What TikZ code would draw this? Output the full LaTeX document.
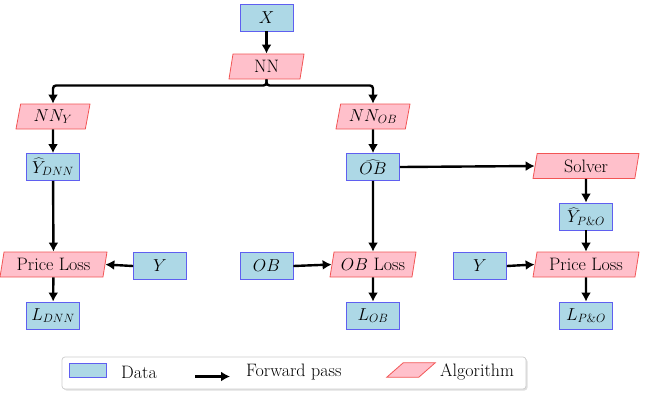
\documentclass[tikz,border=0pt]{standalone}
\usetikzlibrary{shapes.geometric,arrows.meta,shadows}
\definecolor{databg}{RGB}{173,216,230}
\definecolor{dataline}{RGB}{95,95,240}
\definecolor{algbg}{RGB}{255,192,203}
\definecolor{algline}{RGB}{242,85,85}
\begin{document}
\begin{tikzpicture}[x=1pt,y=-1pt, font=\fontsize{18}{21}\selectfont,
 data/.style={draw=dataline, fill=databg, line width=0.9pt, minimum width=53pt, minimum height=27pt, inner sep=0pt},
 alg/.style={trapezium, trapezium left angle=72, trapezium right angle=108, trapezium stretches body, draw=algline, fill=algbg, line width=0.8pt, minimum height=25pt, inner sep=0pt},
 flow/.style={line width=2.4pt, -{Latex[length=9pt,width=10pt]}},
 lbl/.style={inner sep=0pt, anchor=west}]
\useasboundingbox (0,0) rectangle (650,392);
\node[data] (x) at (266.5,17.5) {$X$};
\node[alg, minimum width=75pt] (nn) at (266.5,66.5) {NN};
\node[alg, minimum width=74pt] (nny) at (53,116.5) {$NN_{Y}$};
\node[alg, minimum width=74pt] (nnob) at (373,116.5) {$NN_{OB}$};
\node[data] (yd) at (53,167) {$\widehat{Y}_{DNN}$};
\node[data] (obh) at (373,167) {$\widehat{OB}$};
\node[alg, minimum width=106pt] (solver) at (586,166) {Solver};
\node[data] (ypo) at (586,216.5) {$\widehat{Y}_{P\&O}$};
\node[alg, minimum width=107pt] (pl1) at (53.5,264.5) {Price Loss};
\node[data] (y1) at (160,266) {$Y$};
\node[data] (ob) at (266.5,266) {$OB$};
\node[alg, minimum width=86pt] (obl) at (373,264.5) {$OB$ Loss};
\node[data] (y2) at (480,266) {$Y$};
\node[alg, minimum width=106pt] (pl2) at (586,264.5) {Price Loss};
\node[data] (ldnn) at (53,315.5) {$L_{DNN}$};
\node[data] (lob) at (373,315.5) {$L_{OB}$};
\node[data] (lpo) at (586,315.5) {$L_{P\&O}$};
\coordinate (split) at (266.5,85.5);
\draw[flow] (x) -- (nn);
\draw[flow, rounded corners=3pt] (nn.south) -- (split) -| (nny.north);
\draw[flow, rounded corners=3pt] (nn.south) -- (split) -| (nnob.north);
\draw[flow] (nny) -- (yd);
\draw[flow] (yd) -- (pl1);
\draw[flow] (y1.west) -- (pl1.east);
\draw[flow] (pl1) -- (ldnn);
\draw[flow] (nnob) -- (obh);
\draw[flow] (obh) -- (obl);
\draw[flow] (ob.east) -- (obl.west);
\draw[flow] (obl) -- (lob);
\draw[flow] (obh.east) -- (solver.west);
\draw[flow] (solver) -- (ypo);
\draw[flow] (ypo) -- (pl2);
\draw[flow] (y2.east) -- (pl2.west);
\draw[flow] (pl2) -- (lpo);
% legend
\node[draw=gray!40, rounded corners=3pt, fill=white, line width=0.7pt,
  drop shadow={opacity=0.25, shadow xshift=1.5pt, shadow yshift=-1.5pt},
  minimum width=464pt, minimum height=32pt, inner sep=0pt] (legend) at (294,373) {};
\node[data, minimum width=37pt, minimum height=14pt] (ldata) at (87.5,370.5) {};
\node[lbl] (tdata) at (121,372) {Data};
\coordinate (la1) at (195,376.5);
\coordinate (la2) at (230,376.5);
\draw[flow] (la1) -- (la2);
\node[lbl] (tfwd) at (246,372) {Forward pass};
\node[inner sep=0pt, minimum width=48pt, minimum height=14pt] (lalg) at (411,370) {};
\draw[draw=algline, fill=algbg, line width=0.8pt] (lalg.south west) -- ++(32,0) -- (lalg.north east) -- ++(-32,0) -- cycle;
\node[lbl] (talg) at (440,372) {Algorithm};
\end{tikzpicture}
\end{document}
